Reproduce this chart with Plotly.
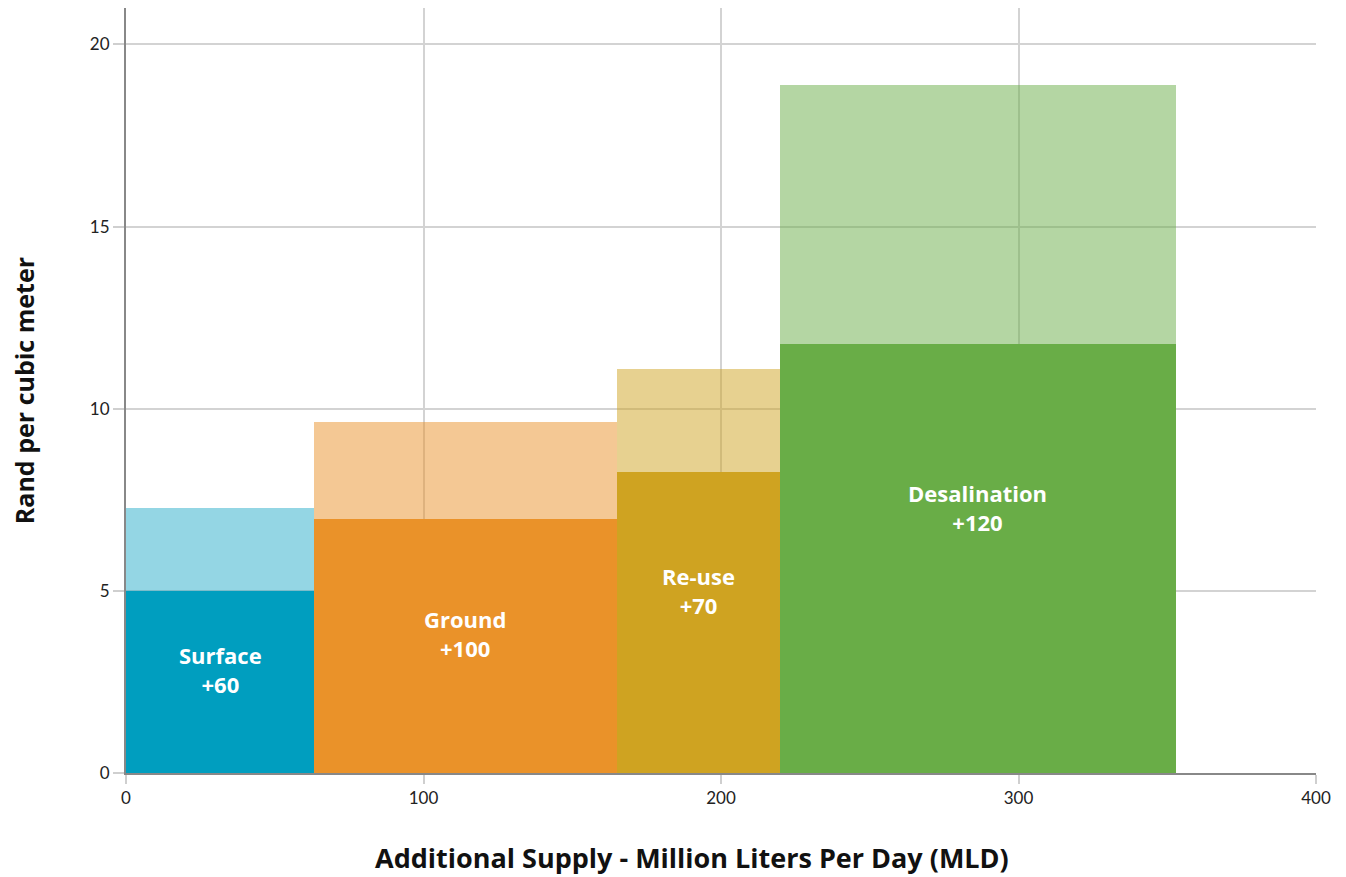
import plotly.graph_objects as go

# Data
sources = ["Surface", "Ground", "Re-use", "Desalination"]
labels = ["+60", "+100", "+70", "+120"]
x_start = [0, 63.2, 165.0, 219.8]
x_end = [63.2, 165.0, 219.8, 352.9]
cost_low = [5.0, 6.97, 8.26, 11.77]
cost_high = [7.27, 9.63, 11.08, 18.88]
x_ticks = [0, 100, 200, 300, 400]
y_ticks = [0, 5, 10, 15, 20]

# styling (not data)
colors = ["#009EBF", "#EA9229", "#CFA321", "#69AD47"]
light_opacity = [0.42, 0.5, 0.5, 0.5]
label_y = [2.83, 3.84, 5.0, 7.3]

widths = [e - s for s, e in zip(x_start, x_end)]
centers = [s + w / 2 for s, w in zip(x_start, widths)]

fig = go.Figure()
for c, w, h, col, op in zip(centers, widths, cost_high, colors, light_opacity):
    fig.add_trace(go.Bar(
        x=[c], y=[h], width=[w],
        marker=dict(color=col, opacity=op, line=dict(width=0)),
        hoverinfo="skip", showlegend=False,
    ))
fig.add_trace(go.Bar(
    x=centers, y=cost_low, width=widths,
    marker=dict(color=colors, line=dict(width=0)),
    showlegend=False,
))

for c, ly, name, lab in zip(centers, label_y, sources, labels):
    fig.add_annotation(
        x=c, y=ly, xref="x", yref="y", showarrow=False,
        text=f"<b>{name}<br>{lab}</b>",
        font=dict(family="Open Sans", size=22, color="white"),
        align="center",
    )

fig.add_annotation(
    x=0.4756, y=-0.111, xref="paper", yref="paper", showarrow=False,
    text="<b>Additional Supply - Million Liters Per Day (MLD)</b>",
    font=dict(family="Open Sans", size=27, color="#111"),
    xanchor="center", yanchor="middle",
)
fig.add_annotation(
    x=-0.086, y=0.5, xref="paper", yref="paper", showarrow=False,
    text="<b>Rand per cubic meter</b>", textangle=-90,
    font=dict(family="Open Sans", size=25, color="#111"),
    xanchor="center", yanchor="middle",
)

fig.update_layout(
    width=1346, height=877,
    margin=dict(l=118, r=38, t=0, b=112),
    paper_bgcolor="white", plot_bgcolor="white",
    barmode="overlay", bargap=0,
    font=dict(family="Lato", size=17, color="#222"),
    xaxis=dict(
        range=[0, 400], tickvals=x_ticks, ticktext=[str(v) for v in x_ticks],
        showgrid=True, gridcolor="#d3d3d3", gridwidth=2,
        showline=True, linecolor="#888", linewidth=2,
        ticks="outside", ticklen=9, tickcolor="#cfcfcf", tickwidth=2,
        zeroline=False, tickfont=dict(family="Lato", size=17, color="#222"),
    ),
    yaxis=dict(
        range=[0, 21], tickvals=y_ticks, ticktext=[str(v) for v in y_ticks],
        showgrid=True, gridcolor="#d3d3d3", gridwidth=2,
        showline=True, linecolor="#888", linewidth=2,
        ticks="outside", ticklen=11, tickcolor="#cfcfcf", tickwidth=2,
        zeroline=False, tickfont=dict(family="Lato", size=17, color="#222"),
    ),
)

fig.write_html("out.html")
